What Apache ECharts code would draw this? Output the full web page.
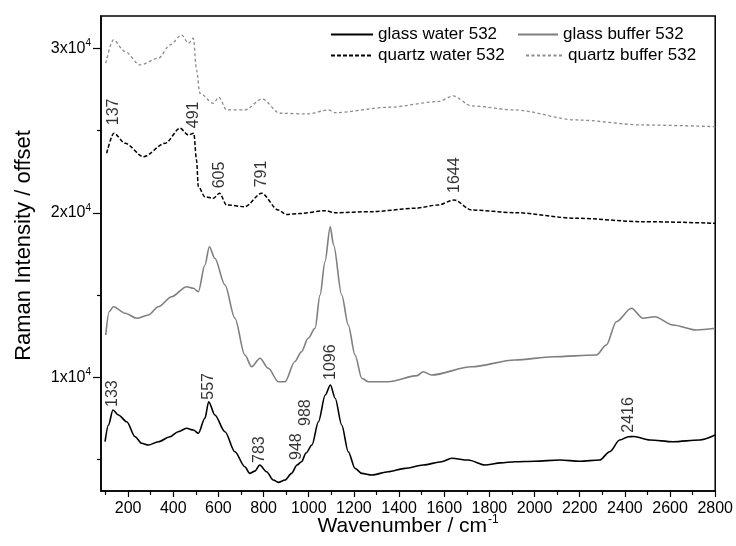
<!DOCTYPE html>
<html>
<head>
<meta charset="utf-8">
<script src="https://cdn.jsdelivr.net/npm/echarts@6/dist/echarts.min.js"></script>
<style>
  html, body { margin: 0; padding: 0; background: #fff; }
  #chart { width: 736px; height: 546px; }
</style>
</head>
<body>
<div id="chart"></div>
<script>
// Raman spectra [wavenumber (cm^-1), intensity with offset]
const glassWater = [
  [98, 6085], [113, 7100], [133, 8012], [157, 7708], [194, 7300], [231, 6389],
  [260, 5988], [290, 5885], [334, 6085], [386, 6390], [422, 6693], [459, 6900],
  [489, 6796], [511, 6596], [540, 7508], [557, 8517], [584, 7708], [629, 6693],
  [673, 5477], [717, 4566], [739, 4164], [761, 4300], [783, 4669], [813, 4261],
  [843, 3757], [865, 3617], [895, 3757], [924, 4164], [948, 4669], [968, 4870],
  [988, 5400], [1014, 5885], [1043, 7301], [1073, 8924], [1096, 9532], [1117, 8723],
  [1146, 7100], [1175, 5477], [1205, 4468], [1235, 4164], [1279, 4061], [1352, 4261],
  [1426, 4468], [1507, 4669], [1588, 4870], [1633, 5076], [1706, 4972], [1780, 4669],
  [1850, 4800], [1913, 4870], [2000, 4900], [2112, 4973], [2200, 4900], [2288, 4973],
  [2333, 5477], [2377, 6188], [2416, 6389], [2440, 6400], [2510, 6188], [2613, 6085],
  [2731, 6188], [2800, 6492]
];
const glassBuffer = [
  [101, 12571], [116, 13988], [135, 14292], [187, 13890], [238, 13587], [290, 13787],
  [334, 14292], [393, 14900], [459, 15508], [489, 15410], [511, 15204], [540, 16827],
  [560, 17939], [584, 17234], [629, 15611], [673, 13587], [717, 11356], [747, 10644],
  [784, 11155], [821, 10547], [865, 9733], [895, 9733], [938, 10948], [968, 11556],
  [997, 12371], [1028, 12979], [1050, 15003], [1072, 17028], [1095, 19155], [1110, 18040],
  [1146, 15003], [1175, 13180], [1205, 11356], [1235, 9939], [1264, 9733], [1352, 9733],
  [1480, 10100], [1507, 10340], [1544, 10140], [1721, 10644], [1913, 11052], [2082, 11252],
  [2274, 11356], [2318, 11964], [2362, 13380], [2429, 14195], [2480, 13587], [2532, 13684],
  [2613, 13179], [2716, 12875], [2800, 12979]
];
const quartzWater = [
  [105, 23617], [137, 24833], [187, 24225], [268, 23410], [364, 24225], [430, 25137],
  [467, 24729], [491, 24833], [503, 23210], [511, 21587], [540, 20978], [577, 20882],
  [605, 21185], [636, 20474], [717, 20371], [791, 21185], [865, 20170], [900, 19900],
  [960, 19950], [1072, 20128], [1117, 20006], [1279, 20067], [1470, 20274], [1573, 20474],
  [1644, 20778], [1721, 20170], [1913, 20006], [2185, 19665], [2480, 19459], [2800, 19362]
];
const quartzBuffer = [
  [101, 29088], [135, 30504], [187, 29793], [253, 28985], [334, 29392], [386, 30200],
  [437, 30809], [467, 30305], [489, 30608], [503, 28681], [518, 27265], [577, 26657],
  [602, 27021], [636, 26249], [717, 26249], [794, 26918], [872, 26049], [997, 26006],
  [1087, 26249], [1117, 26087], [1352, 26413], [1573, 26756], [1640, 27100], [1721, 26493],
  [1913, 26249], [2185, 25641], [2480, 25337], [2800, 25234]
];

// Annotated band positions (cm^-1)
const glassWaterPeaks = [133, 557, 783, 948, 988, 1096, 2416];
const quartzWaterPeaks = [137, 491, 605, 791, 1644];

// Axis ticks
const xMajorTicks = [200, 400, 600, 800, 1000, 1200, 1400, 1600, 1800, 2000, 2200, 2400, 2600, 2800];
const xMinorTicks = [100, 300, 500, 700, 900, 1100, 1300, 1500, 1700, 1900, 2100, 2300, 2500, 2700];
const yMajorTicks = [10000, 20000, 30000];
const yMinorTicks = [5000, 15000, 25000];

const seriesNames = ['glass water 532', 'glass buffer 532', 'quartz water 532', 'quartz buffer 532'];

// gap in px between a band's point and its rotated label
const labelLift = { 133: 3, 557: 2, 783: 2, 948: 5, 988: 27, 1096: 5, 2416: 4,
                    137: 8, 491: 5, 605: 5, 791: 6, 1644: 7 };

const FONT = 'Liberation Sans, Arial, sans-serif';
const X_MIN = 80, X_MAX = 2800, Y_MIN = 3090, Y_MAX = 31960;

function peakPoints(curve, peaks) {
  return peaks.map(p => {
    const pt = curve.find(d => d[0] === p);
    return {
      value: [p, pt[1]],
      label: { distance: labelLift[p] }
    };
  });
}

function supLabel(v) {
  return '{b|' + (v / 10000) + 'x10}{s|4}';
}

const chart = echarts.init(document.getElementById('chart'), null, { renderer: 'canvas' });

const lineBase = { type: 'line', showSymbol: false, symbol: 'none', smooth: 0.3,
                   smoothMonotone: 'x', animation: false, z: 3 };

const peakLabelSeries = (data) => ({
  type: 'scatter', data: data, symbolSize: 0, silent: true, animation: false, z: 5,
  label: {
    show: true, position: 'top', rotate: 90, align: 'left', verticalAlign: 'middle',
    formatter: p => String(p.value[0]),
    fontFamily: FONT, fontSize: 16, color: '#000'
  }
});

// legend shows only the line sample, no marker
const legendCommon = {
  orient: 'vertical', padding: 0, itemGap: 0, itemHeight: 14,
  itemStyle: { opacity: 0 },
  textStyle: { fontFamily: FONT, fontSize: 17, color: '#000' },
  selectedMode: false
};

chart.setOption({
  animation: false,
  backgroundColor: '#fff',
  grid: { left: 101, right: 20, top: 16, bottom: 55, show: true,
          borderColor: '#000', borderWidth: 1.5, backgroundColor: 'transparent' },
  legend: [
    Object.assign({}, legendCommon, { data: [seriesNames[0]], left: 330, top: 26, itemWidth: 42 }),
    Object.assign({}, legendCommon, { data: [seriesNames[2]], left: 330, top: 47, itemWidth: 42 }),
    Object.assign({}, legendCommon, { data: [seriesNames[1]], left: 517, top: 26, itemWidth: 40 }),
    Object.assign({}, legendCommon, { data: [seriesNames[3]], left: 525, top: 47, itemWidth: 37 })
  ],
  xAxis: [
    {
      type: 'value', min: X_MIN, max: X_MAX, position: 'bottom',
      name: 'Wavenumber / cm{s|-1}', nameLocation: 'middle', nameGap: 23,
      nameMoveOverlap: false,
      nameTextStyle: { fontFamily: FONT, fontSize: 21, color: '#000',
        rich: { s: { fontFamily: FONT, fontSize: 12, color: '#000', padding: [0, 0, 12, 1] } } },
      axisLine: { show: true, lineStyle: { color: '#000', width: 1.5 } },
      axisTick: { show: true, inside: false, length: 6, lineStyle: { color: '#000', width: 1.2 },
                  customValues: xMajorTicks },
      axisLabel: { customValues: xMajorTicks, margin: 10, formatter: v => String(v),
                   fontFamily: FONT, fontSize: 16, color: '#000' },
      splitLine: { show: false }
    },
    {
      type: 'value', min: X_MIN, max: X_MAX, position: 'bottom',
      axisLine: { show: false },
      axisTick: { show: true, inside: false, length: 4, lineStyle: { color: '#000', width: 1.2 },
                  customValues: xMinorTicks },
      axisLabel: { show: false },
      splitLine: { show: false }
    }
  ],
  yAxis: [
    {
      type: 'value', min: Y_MIN, max: Y_MAX, position: 'left',
      name: 'Raman Intensity / offset', nameLocation: 'middle', nameGap: 66,
      nameMoveOverlap: false,
      nameTextStyle: { fontFamily: FONT, fontSize: 22, color: '#000', padding: [0, 0, 0, 16] },
      axisLine: { show: true, lineStyle: { color: '#000', width: 1.5 } },
      axisTick: { show: true, inside: false, length: 8, lineStyle: { color: '#000', width: 1.2 },
                  customValues: yMajorTicks },
      axisLabel: {
        customValues: yMajorTicks, margin: 10, formatter: supLabel,
        rich: {
          b: { fontFamily: FONT, fontSize: 16, color: '#000' },
          s: { fontFamily: FONT, fontSize: 10, color: '#000', padding: [0, 0, 10, 0] }
        }
      },
      splitLine: { show: false }
    },
    {
      type: 'value', min: Y_MIN, max: Y_MAX, position: 'left',
      axisLine: { show: false },
      axisTick: { show: true, inside: false, length: 4, lineStyle: { color: '#000', width: 1.2 },
                  customValues: yMinorTicks },
      axisLabel: { show: false },
      splitLine: { show: false }
    }
  ],
  series: [
    Object.assign({}, lineBase, { name: seriesNames[0], data: glassWater,
      itemStyle: { color: '#000' }, lineStyle: { color: '#000', width: 1.6 } }),
    Object.assign({}, lineBase, { name: seriesNames[1], data: glassBuffer,
      itemStyle: { color: '#7f7f7f' }, lineStyle: { color: '#7f7f7f', width: 1.6 } }),
    Object.assign({}, lineBase, { name: seriesNames[2], data: quartzWater,
      itemStyle: { color: '#000' }, lineStyle: { color: '#000', width: 1.5, type: [4, 2] } }),
    Object.assign({}, lineBase, { name: seriesNames[3], data: quartzBuffer,
      itemStyle: { color: '#8c8c8c' }, lineStyle: { color: '#8c8c8c', width: 1.3, type: [3, 2.5] } }),
    peakLabelSeries(peakPoints(glassWater, glassWaterPeaks)),
    peakLabelSeries(peakPoints(quartzWater, quartzWaterPeaks))
  ]
});
</script>
</body>
</html>
